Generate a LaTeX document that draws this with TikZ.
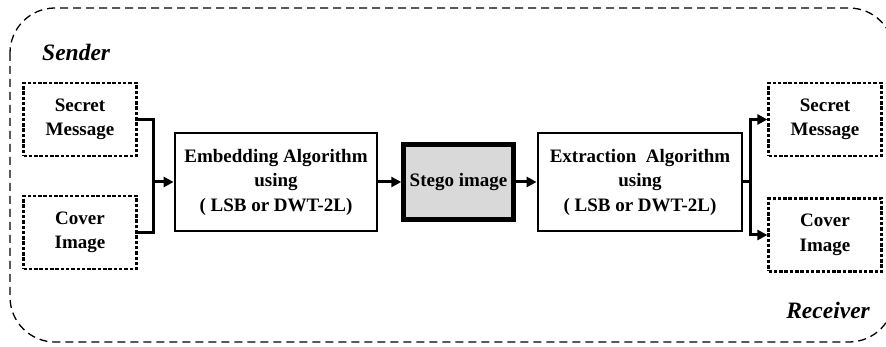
\documentclass[tikz,border=0pt]{standalone}
\usepackage{fontspec}
\setmainfont{Liberation Serif}
\usetikzlibrary{arrows.meta}
\definecolor{stegogray}{RGB}{217,217,217}
\begin{document}
\begin{tikzpicture}[x=1pt,y=-1pt,
  dotbox/.style={draw, line width=2.2pt, dash pattern=on 3.5pt off 1.8pt, minimum width=113pt, minimum height=73pt, inner sep=0pt, align=center, font=\bfseries\fontsize{19}{24.5}\selectfont},
  algbox/.style={draw, line width=2.8pt, minimum height=98pt, inner sep=0pt, align=center, font=\bfseries\fontsize{19}{24.5}\selectfont},
  conn/.style={line width=3pt},
  arr/.style={line width=3pt, -{Triangle[length=10pt,width=10pt]}},
  lbl/.style={inner sep=0pt, font=\bfseries\itshape\fontsize{23.5}{28}\selectfont}]
\clip (0,0) rectangle (886,347);
\useasboundingbox (0,0) rectangle (886,347);
\draw[line width=1.3pt, dash pattern=on 8pt off 5pt, rounded corners=45pt] (10,8) rectangle (894,342);
\node[lbl, anchor=base west] (snd) at (42,61) {Sender};
\node[lbl, anchor=base east] (rcv) at (870,318) {Receiver};
\node[dotbox] (sl) at (80,119.5) {Secret\\Message};
\node[dotbox] (cl) at (80,232.5) {Cover\\Image};
\node[algbox, minimum width=202pt] (emb) at (276,182) {Embedding Algorithm\\using\\( LSB or DWT-2L)};
\node[draw, line width=4.5pt, fill=stegogray, minimum width=110pt, minimum height=75pt, inner sep=0pt, font=\bfseries\fontsize{19}{24.5}\selectfont] (stg) at (458.5,182) {Stego image};
\node[algbox, minimum width=204pt] (ext) at (640,182) {Extraction\ \ Algorithm\\using\\( LSB or DWT-2L)};
\node[dotbox] (sr) at (825,119.5) {Secret\\Message};
\node[dotbox] (cr) at (825,235) {Cover\\Image};
\coordinate (jl) at (153,182);
\coordinate (jr) at (750,182);
\draw[conn] (sl.east) -| (jl) |- (cl.east);
\draw[arr] (jl) -- (emb.west);
\draw[arr] (emb.east) -- (stg.west);
\draw[arr] (stg.east) -- (ext.west);
\draw[conn] (ext.east) -- (jr);
\draw[arr] (jr) |- (sr.west);
\draw[arr] (jr) |- (cr.west);
\end{tikzpicture}
\end{document}
